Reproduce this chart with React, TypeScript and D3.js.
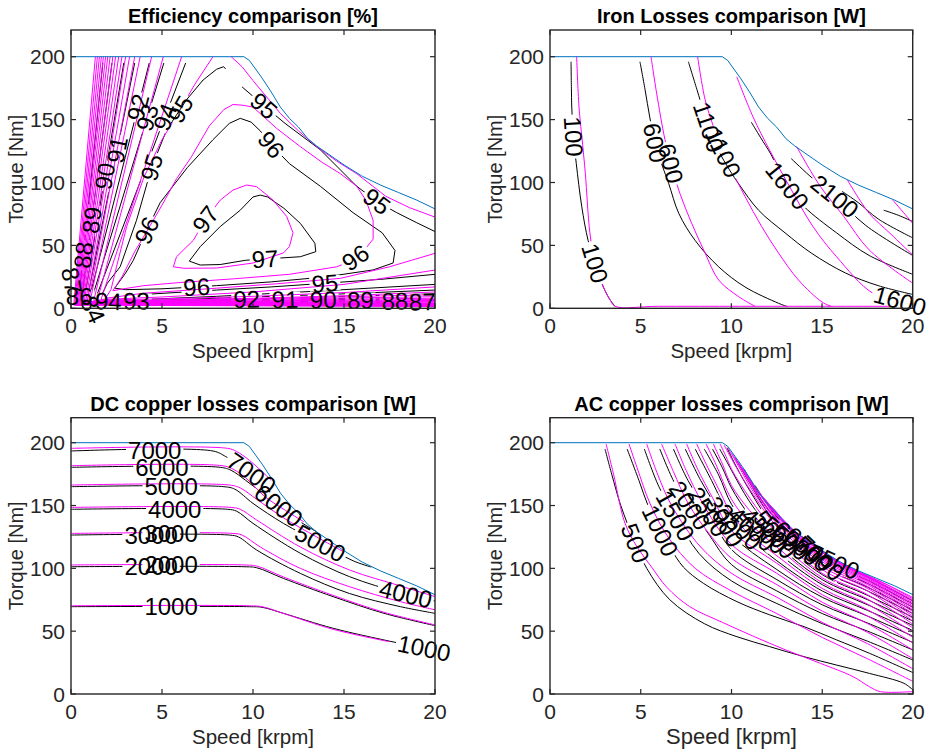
import React from 'react';
import * as d3 from 'd3';

type P = [number, number];
type LT = [string, 'k' | 'm', number, number, number, number?, boolean?];

const speedTicks = [0, 5, 10, 15, 20];
const torqueTicks = [0, 50, 100, 150, 200];

const envelope: P[] = [[0,200],[9.5,200],[9.8,197],[10.5,183],[11,172],[11.5,160],[12,151],[12.5,144],[13,135],[13.5,129],[14,124],[15,114],[16,105],[17,98],[18,92],[19,86],[20,79]];

// ---------- Efficiency [%] ----------
const effBlack: P[][] = [
  [[6.5,37.5],[7.1,49],[8.2,65],[9.3,78],[10.0,88.5],[10.4,90],[10.8,88.5],[11.7,79.5],[12.6,67.5],[13.4,51.7],[13.45,45],[12.6,41],[11,39.5],[9.6,38.2],[8.2,34.8],[7.1,34.4],[6.5,37.5]],
  [[2.4,16],[3.0,28],[3.42,38],[4.16,62],[4.9,84],[6.4,112],[7.8,134],[8.7,147],[9.3,151],[9.9,148],[10.4,141],[11.0,130],[12.0,115],[13.7,97],[15.5,76],[17.1,60],[17.8,46],[17.7,36],[16.6,30.5],[14,25],[11,21],[8,18],[6.9,17],[5,15.5],[3,14.8],[2.4,16]],
  [[20,27],[17,23],[13.95,19.9],[11,17],[8,14.5],[4,11],[2.2,9],[1.6,8],[2.0,20],[2.7,33],[3.6,70],[4.43,112],[5.26,142],[6.36,166],[7.26,181.5],[8.0,190],[8.37,192],[8.5,190.5]],
  [[9.4,176],[10.6,161],[11.76,147],[13.7,126],[15.7,97],[16.8,85],[17.9,76],[19,68],[20,61]],
  [[6.3,195],[1.3,6],[2.05,5.6],[4,7],[8,9.5],[14,14],[20,19]],
  [[5.1,195],[1.1,5.5],[3.6,5.8],[10,9],[15,11.5],[20,14.5]],
  [[4.3,195],[0.95,5],[4,5.8],[9.65,7.2],[15,9.5],[20,11.5]],
  [[3.5,195],[0.85,4.5],[6,5.5],[11.76,7],[20,9.5]],
  [[2.9,195],[0.7,4],[8,5],[13.86,6.8],[20,8]],
  [[2.25,195],[0.55,3.5],[10,4.8],[15.9,6.3],[20,7]],
  [[1.75,195],[0.4,3],[12,4.5],[17.8,5.8],[20,6.2]],
  [[0,25],[0.3,2.5],[14,4],[19.3,5.2],[20,5.3]],
];
const effMagenta: P[][] = [
  [[5.62,33],[5.8,41],[6.72,54],[7.36,70],[8.2,86],[8.9,94],[9.65,98],[10.2,96.7],[11.1,86],[11.85,73],[12.2,60],[12.0,49],[11.67,44],[10.0,36],[8.0,32],[6.2,31.8],[5.62,33]],
  [[2.3,14],[2.8,25],[3.5,45],[4.2,62],[5.0,82],[5.8,103],[6.6,120],[7.6,145],[8.4,158],[8.9,162],[9.4,161.5],[10.0,160],[11.3,143],[12.6,128.5],[13.8,116],[14.8,107],[15.7,97],[16.2,86],[16.6,70],[16.6,55],[16.0,44],[15.3,37],[14.6,33],[12,27],[9,23.5],[6,20.5],[4,18],[2.9,15.5],[2.3,14]],
  [[7.8,200],[6.8,178],[6.0,158],[5.0,134],[4.0,104],[3.06,65],[2.5,33],[2.2,15],[1.9,8],[4,12],[8,16],[11.3,19.5],[14.8,23.8],[17.5,33],[20,43.7]],
  [[8.8,200],[9.4,192],[10.0,181],[11.5,155],[12.5,141],[13.5,128.5],[14.6,117],[15.7,107],[17.3,89],[18.6,80],[20,72.5]],
  [[6.08,200],[1.65,7],[5,9],[10,13],[15,19],[20,30.4]],
  [[5.07,200],[1.45,6.5],[5,7.5],[10,9.5],[15,12.5],[20,17]],
  [[4.43,200],[1.25,6],[5,6.5],[10,8],[15,10],[20,13]],
  [[3.8,200],[1.05,5.5],[10,7.5],[20,10.8]],
  [[3.5,200],[0.96,5.3],[20,9.2]],
  [[3.22,200],[0.88,5.1],[20,8]],
  [[3.0,200],[0.8,4.9],[20,7]],
  [[2.8,200],[0.72,4.7],[20,6.2]],
  [[2.62,200],[0.66,4.5],[20,5.5]],
  [[2.45,200],[0.6,4.3],[20,4.9]],
  [[2.3,200],[0.55,4.1],[20,4.3]],
  [[2.15,200],[0.5,3.9],[20,3.8]],
  [[2.02,200],[0.45,3.7],[20,3.4]],
  [[1.9,200],[0.4,3.5],[20,3.0]],
  [[1.78,200],[0.35,3.3],[20,2.6]],
  [[1.67,200],[0.3,3.1],[20,2.3]],
  [[1.56,200],[0.25,2.9],[20,2.0]],
  [[1.45,200],[0.2,2.7],[20,1.7]],
  [[1.34,200],[0.15,2.5],[20,1.4]],
];
const effLabels: LT[] = [
  ['97','k',0,10.66,39.5],['96','k',1,4.16,62],['96','k',1,11.0,130],['96','k',1,6.9,17.3],
  ['95','k',2,4.43,112],['95','k',2,13.95,19.9],['95','k',3,10.6,161],['95','k',3,16.8,85],
  ['94','k',4,5.0,153],['94','k',4,2.05,5.6],['93','k',5,4.1,152],['93','k',5,3.6,5.8],
  ['92','k',6,3.6,160],['92','k',6,9.65,7.2],['91','k',7,2.53,126],['91','k',7,11.76,7],
  ['90','k',8,1.89,105],['90','k',8,13.86,6.8],['89','k',9,1.15,70],['89','k',9,15.9,6.3],
  ['88','k',10,0.88,42],['88','k',10,17.8,5.8],['87','k',11,0.08,22],['87','k',11,19.3,5.2],
  ['86','k',0,0.45,9,0],['84','k',0,1.2,-1,65],
  ['97','m',0,7.36,71],['95','m',2,6.17,157],['96','m',1,15.6,41],
];

// ---------- Iron losses [W] ----------
const ironBlack: P[][] = [
  [[1.16,196],[1.18,175],[1.2,160],[1.3,136],[1.45,115],[1.75,81],[2.1,54],[2.5,35],[2.94,17],[3.3,7],[3.6,1.3]],
  [[4.96,196],[5.24,174],[5.5,152],[5.8,131],[6.2,113],[6.55,99],[7.1,75.5],[8.0,54],[9.3,33],[10.75,17],[12.6,4],[13.1,1.3]],
  [[7.63,196],[8.1,174],[8.5,155],[8.75,144],[9.3,125],[9.9,110],[10.45,98],[11.5,78],[12.96,60],[14.4,44],[16.3,28],[18.1,18],[20,11]],
  [[11.1,148],[11.6,136],[12.2,122],[13.05,98],[14.0,81],[15.8,60],[17.6,42],[20,27]],
  [[13.3,119],[14.5,103],[15.7,89],[17.4,66],[20,42]],
  [[16.1,93],[17,84],[18.1,71],[20,56]],
  [[18.4,78],[19.2,74],[20,69]],
];
const ironMagenta: P[][] = [
  [[1.47,200],[1.6,160],[1.8,130],[1.95,107],[2.2,60],[2.5,35],[2.94,17],[3.3,7],[3.6,1.6],[6,1.6],[20,1.6]],
  [[5.57,200],[5.88,171],[6.34,134],[6.7,113],[7.17,91],[7.8,68],[8.55,44],[9.3,22.5],[10.4,9.3],[11.3,1.6]],
  [[8.14,200],[8.55,166],[9.0,145],[9.5,125],[10.0,110],[10.75,89],[11.67,65],[12.6,44],[13.7,22.5],[15.0,5],[15.5,1.6]],
  [[10.3,184],[11.2,152],[12.1,126],[13.2,97],[14.5,65],[15.8,41],[17.8,12],[19.4,5.5],[20,3.5]],
  [[13.6,128.5],[14.9,97],[16.2,73],[17.6,46.4],[20,20]],
  [[16.4,102],[17.6,75.5],[18.75,59.6],[20,42.4]],
  [[18.9,86],[19.5,76],[20,67.5]],
];
const ironLabels: LT[] = [
  ['100','k',0,1.29,136.5],['100','k',0,2.48,35.8,undefined,true],['600','k',1,5.6,131],
  ['1100','k',2,8.73,144],['1600','k',3,13.05,97],['2100','k',4,15.7,89],
  ['600','m',1,6.62,115],['1100','m',2,9.47,123],['1600','m',3,19.3,6],
];

// ---------- DC copper losses [W] ----------
const dcBlack: P[][] = [
  [[0,69.5],[9.8,69.5],[10.5,69],[11.67,64.2],[14.4,52.3],[17.2,43],[19.4,36.5],[20,35]],
  [[0,101.3],[9.5,101.3],[10.2,100.5],[11.67,92],[14.4,77.5],[17.2,64.2],[20,54.4]],
  [[0,126.5],[8.7,126.5],[9.2,125],[10.2,114.6],[12.6,96],[15.3,80],[18.1,69.5],[20,64.2]],
  [[0,147],[8.6,147],[9.1,145.5],[10,135.8],[12.6,112],[15.3,93.4],[18.1,80.5],[20,74]],
  [[0,165],[8.4,165],[9.0,163],[10,151.7],[11.67,135.8],[13.7,120],[15.5,106],[16.5,101]],
  [[0,180.4],[8.2,180.4],[8.8,178],[9.6,170],[10.5,160],[11.4,150],[12.5,138],[13.5,129]],
  [[0,193.4],[7.8,193.4],[8.5,189],[9.3,182],[9.93,175.6],[10.6,169],[11.2,166]],
];
const dcMagenta: P[][] = [
  [[0,70.2],[9.8,70.2],[10.5,69.5],[11.7,64],[14.4,51.5],[17.5,41.6]],
  [[0,102.7],[9.5,102.7],[10.2,101.8],[11.7,93],[14.4,78.5],[17.2,65],[20,55]],
  [[0,127.8],[8.9,127.8],[9.4,126.5],[10.4,117],[12.6,100],[15.3,85.4],[18.1,73.5],[20,67]],
  [[0,148.5],[8.8,148.5],[9.3,147],[10.2,138.5],[12.6,117],[15.3,98.7],[18.1,86],[20,77.5]],
  [[0,166.3],[8.7,166.3],[9.3,164],[10.2,155],[11.7,140],[13.5,125],[15,113]],
  [[0,181.7],[8.3,181.7],[8.9,179],[9.6,172],[10.66,157],[11.8,146],[12.8,137]],
  [[0,195.5],[8.6,195.5],[9.1,193],[9.8,186],[10.5,177],[11.0,170]],
];
const dcLabels: LT[] = [
  ['7000','k',6,4.6,193.4],['6000','k',5,5.0,180.4],['5000','k',4,5.5,165],['4000','k',3,5.7,147],
  ['3000','k',2,4.4,126.5],['2000','k',1,4.4,101.3],['1000','k',0,5.5,69.5],
  ['7000','k',6,9.93,176],['6000','k',5,11.4,150],['5000','k',4,13.7,120],['4000','k',3,18.4,80],['1000','k',0,19.4,36.5],
  ['3000','m',2,5.5,127.8],['2000','m',1,5.5,102.7],
];

// ---------- AC copper losses [W] ----------
const acBlack: P[][] = [
  [[3.03,195],[3.4,175],[3.9,150],[4.7,120],[5.33,100],[6.6,75],[8.5,56],[10.3,45.6],[12.1,37.7],[14,29.7],[15.8,23],[17.6,16.4],[19.5,8.5],[20,3.2]],
  [[4.25,195],[4.9,170],[5.4,150],[6.07,130],[6.6,117],[7.35,101],[8.46,88],[10.3,73.5],[12.1,63],[14,53.6],[15.8,43],[17.6,32.4],[20,17]],
  [[5.2,195],[6.0,165],[6.9,142],[8.2,112],[10,90],[12.5,72],[15,56],[17.5,42],[20,27]],
  [[6.05,195],[6.9,167],[7.7,150],[8.8,126],[10,103],[12.5,82],[15,64],[17.5,50],[20,35]],
  [[6.8,195],[7.6,170],[8.7,145],[10,115],[12.5,91],[15,71],[17.5,56.5],[20,41]],
  [[7.45,195],[8.3,170],[9.2,148],[10,127],[12.5,99],[15,77],[17.5,62],[20,46]],
  [[8.0,195],[8.9,170],[10,139],[11,124],[12.5,106],[15,82],[17.5,66.5],[20,50.5]],
  [[8.5,195],[9.3,174],[10,151],[11,133],[12.5,113],[15,87],[17.5,71],[20,54.5]],
  [[8.95,195],[9.5,180],[10,164],[11,142],[12.5,119],[15,91],[17.5,75],[20,58]],
  [[9.35,195],[9.7,186],[10,178],[11,153],[12.5,125],[15,95],[17.5,78.5],[20,61]],
  [[9.75,196],[10.3,180],[11,162],[12.5,130],[15,98.5],[17.5,82],[20,64]],
  [[10.2,188],[11,168],[12.5,134.5],[15,101.5],[17.5,85],[20,66.5]],
  [[10.7,179],[11.5,158],[12.5,138.5],[15,104.5],[17.5,88],[20,69]],
  [[11.3,166],[12.5,141],[15,107],[17.5,90.5],[20,71.5]],
  [[12.0,151],[13,134],[15,109.5],[17.5,93],[20,74]],
];
const acMagenta: P[][] = [
  [[3.09,199],[3.5,175],[4.13,136],[4.8,117],[5.6,101],[6.43,85],[7.7,69.5],[9.5,57],[11.2,46],[13,35],[14.9,24.4],[16.7,13.8],[17.6,5.8],[18.2,1.9],[20,1.9]],
  [[4.35,199],[4.8,180],[5.5,152],[6.5,125],[8,100],[10,82],[12.5,64],[15,45],[17.5,28],[20,10]],
  [[5.33,199],[5.9,176],[6.7,150],[8.3,117],[10,96],[12.5,77],[15,57],[17.5,40],[20,20]],
  [[6.15,199],[6.8,177],[7.6,152],[8.8,127],[10,108],[12.5,87],[15,66],[17.5,49],[20,28]],
  [[6.89,199],[7.5,178],[8.4,152],[10,119],[12.5,96],[15,73],[17.5,56],[20,35]],
  [[7.53,199],[8.1,180],[9.0,155],[10,130],[12.5,104],[15,79],[17.5,62],[20,40.5]],
  [[8.08,199],[8.6,183],[9.4,160],[10,143],[11,127],[12.5,110],[15,84],[17.5,67],[20,45]],
  [[8.6,199],[9.1,184],[10,155],[11,136],[12.5,117],[15,88.5],[17.5,71.5],[20,49]],
  [[9.0,199],[9.5,183],[10,166],[11,146],[12.5,123],[15,92.5],[17.5,75.5],[20,52.5]],
  [[9.37,199],[9.7,189],[10,179],[11,156],[12.5,128],[15,96],[17.5,79],[20,55.5]],
  [[9.6,198],[10.2,182],[11,163],[12.5,133],[15,99],[17.5,82],[20,58]],
  [[9.8,196],[10.4,181],[11.2,161],[12.5,135.5],[15,101.5],[17.5,84],[20,60]],
  [[10.0,192],[10.6,178],[11.4,159],[12.5,137.5],[15,103.5],[17.5,85.5],[20,62]],
  [[10.2,188],[10.8,174],[11.6,156],[12.5,139],[15,105.3],[17.5,87],[20,63.8]],
  [[10.4,184],[11.0,170],[11.8,154],[12.5,140],[15,106.8],[17.5,88.2],[20,65.5]],
  [[10.6,180],[11.2,166],[12.0,151],[12.8,137],[15,108],[17.5,89.3],[20,67]],
  [[10.8,176],[11.4,162.5],[12.2,148.5],[13,134],[15,109],[17.5,90.3],[20,68.5]],
  [[11.0,171.5],[11.6,159],[12.4,146],[13.2,132],[15,110],[17.5,91.2],[20,70]],
  [[11.25,165.5],[12,151.5],[13,134.5],[14,122],[15,110.8],[17.5,92],[20,71.3]],
  [[11.5,159.5],[12.3,147.5],[13.3,132],[14.5,117.5],[16,103.5],[17.5,92.7],[20,72.5]],
  [[11.8,154],[12.5,143.3],[13.5,129.5],[14.5,119],[16,104],[17.5,93.3],[20,73.7]],
  [[12.1,148.5],[13,134.5],[14,123.5],[15,112.5],[16.5,100.5],[18,90],[20,74.8]],
  [[12.5,143.5],[13.5,128.5],[14.5,120],[15.5,108.8],[17,97],[18.5,87.5],[20,75.8]],
  [[13.0,134.5],[14,123.5],[15,113.3],[16.5,101],[18,91],[20,76.8]],
];
const acLabels: LT[] = [
  ['500','k',0,4.69,120],['1000','k',1,6.07,130],['1500','k',2,6.9,142],['2000','k',3,7.7,150],
  ['2500','k',4,8.7,145],['3000','k',5,9.6,137],['3500','k',6,10.4,133],['4000','k',7,11.1,131],
  ['4500','k',8,11.8,130],['5000','k',9,12.4,127],['5500','k',10,13.0,124],['6000','k',11,13.6,120],
  ['6500','k',12,14.2,115],['7000','k',13,14.9,108],['7500','k',14,15.6,104],
];

const FONT = '"Liberation Sans", Arial, Helvetica, sans-serif';
const AX = '#262626';
const W = 940, H = 753;
const LFS = 24;

type Cfg = {
  id: string; title: string; x0: number; x20: number; y0: number; y200: number; top: number;
  black: P[][]; magenta: P[][]; labels: LT[]; smooth: boolean; xls: number; titleY: number;
};

const panels: Cfg[] = [
  { id: 'eff', title: 'Efficiency comparison [%]', x0: 71, x20: 435, y0: 308.3, y200: 56.7, top: 30, black: effBlack, magenta: effMagenta, labels: effLabels, smooth: false, xls: 20.5, titleY: 22.5 },
  { id: 'iron', title: 'Iron Losses comparison [W]', x0: 550, x20: 912.7, y0: 308.3, y200: 56.7, top: 30, black: ironBlack, magenta: ironMagenta, labels: ironLabels, smooth: true, xls: 20.5, titleY: 22.5 },
  { id: 'dc', title: 'DC copper losses comparison [W]', x0: 71, x20: 435, y0: 694, y200: 442.7, top: 417.7, black: dcBlack, magenta: dcMagenta, labels: dcLabels, smooth: true, xls: 20.5, titleY: 410.5 },
  { id: 'ac', title: 'AC copper losses comprison [W]', x0: 550, x20: 913, y0: 694, y200: 442.7, top: 417.7, black: acBlack, magenta: acMagenta, labels: acLabels, smooth: true, xls: 22, titleY: 410.5 },
];

function Panel({ c }: { c: Cfg }) {
  const x = d3.scaleLinear().domain([0, 20]).range([c.x0, c.x20]);
  const y = d3.scaleLinear().domain([0, 200]).range([c.y0, c.y200]);
  const line = d3.line<P>().x(d => x(d[0])).y(d => y(d[1]))
    .curve(c.smooth ? d3.curveCatmullRom.alpha(0.5) : d3.curveLinear);
  const lin = d3.line<P>().x(d => x(d[0])).y(d => y(d[1]));

  const placed = c.labels.map(([text, set, li, s, t, a, cut]) => {
    const tx = x(s), ty = y(t);
    let px = tx, py = ty, ang = a ?? 0;
    if (a === undefined) {
      const pts = (set === 'k' ? c.black : c.magenta)[li].map(p => [x(p[0]), y(p[1])]);
      let bd = Infinity;
      for (let i = 0; i < pts.length - 1; i++) {
        const [ax, ay] = pts[i], [bx, by] = pts[i + 1];
        const dx = bx - ax, dy = by - ay; const L = dx * dx + dy * dy;
        let u = L ? ((tx - ax) * dx + (ty - ay) * dy) / L : 0;
        u = Math.max(0, Math.min(1, u));
        const qx = ax + u * dx, qy = ay + u * dy;
        const d = (qx - tx) ** 2 + (qy - ty) ** 2;
        if (d < bd) { bd = d; px = qx; py = qy; ang = Math.atan2(dy, dx) * 180 / Math.PI; }
      }
      while (ang > 90) ang -= 180;
      while (ang <= -90) ang += 180;
    }
    const w = text.length * 0.556 * LFS + 4, h = 15;
    return { text, set, cut: !!cut, px, py, ang, w, h };
  });

  const maskRects = (which: 'k' | 'm') => placed
    .filter(l => l.set === which || l.cut)
    .map((l, i) => (
      <rect key={i} x={-l.w / 2} y={-l.h / 2} width={l.w} height={l.h} fill="black"
        transform={`translate(${l.px},${l.py}) rotate(${l.ang})`} />
    ));

  const cx = (c.x0 + c.x20) / 2;
  const cy = (c.top + c.y0) / 2;

  return (
    <g>
      <defs>
        <clipPath id={`clip-${c.id}`}>
          <rect x={c.x0} y={c.top} width={c.x20 - c.x0} height={c.y0 - c.top} />
        </clipPath>
        <mask id={`mk-${c.id}`} maskUnits="userSpaceOnUse" x={0} y={0} width={W} height={H}>
          <rect x={0} y={0} width={W} height={H} fill="white" />
          {maskRects('k')}
        </mask>
        <mask id={`mm-${c.id}`} maskUnits="userSpaceOnUse" x={0} y={0} width={W} height={H}>
          <rect x={0} y={0} width={W} height={H} fill="white" />
          {maskRects('m')}
        </mask>
      </defs>
      <text x={cx} y={c.titleY} textAnchor="middle" fontFamily={FONT} fontWeight="bold" fontSize={20} fill="#000">{c.title}</text>
      <g clipPath={`url(#clip-${c.id})`}>
        <g mask={`url(#mk-${c.id})`}>
          {c.black.map((l, i) => <path key={i} d={line(l) || ''} fill="none" stroke="#000" strokeWidth={1} />)}
        </g>
        <g mask={`url(#mm-${c.id})`}>
          {c.magenta.map((l, i) => <path key={i} d={line(l) || ''} fill="none" stroke="#FF00FF" strokeWidth={1} />)}
        </g>
        <path d={lin(envelope) || ''} fill="none" stroke="#0072BD" strokeWidth={1} />
      </g>
      {placed.map((l, i) => (
        <text key={i} transform={`translate(${l.px},${l.py}) rotate(${l.ang})`} textAnchor="middle"
          dominantBaseline="central" fontFamily={FONT} fontSize={LFS} fill="#000">{l.text}</text>
      ))}
      <rect x={c.x0} y={c.top} width={c.x20 - c.x0} height={c.y0 - c.top} fill="none" stroke={AX} strokeWidth={1.4} />
      {speedTicks.map(v => (
        <g key={'x' + v}>
          <line x1={x(v)} x2={x(v)} y1={c.y0} y2={c.y0 - 5} stroke={AX} strokeWidth={1.2} />
          <line x1={x(v)} x2={x(v)} y1={c.top} y2={c.top + 5} stroke={AX} strokeWidth={1.2} />
          <text x={x(v)} y={c.y0 + 25} textAnchor="middle" fontFamily={FONT} fontSize={21} fill={AX}>{v}</text>
        </g>
      ))}
      {torqueTicks.map(v => (
        <g key={'y' + v}>
          <line x1={c.x0} x2={c.x0 + 5} y1={y(v)} y2={y(v)} stroke={AX} strokeWidth={1.2} />
          <line x1={c.x20} x2={c.x20 - 5} y1={y(v)} y2={y(v)} stroke={AX} strokeWidth={1.2} />
          <text x={c.x0 - 6} y={y(v)} textAnchor="end" dominantBaseline="central" fontFamily={FONT} fontSize={21} fill={AX}>{v}</text>
        </g>
      ))}
      <text x={cx} y={c.y0 + 50} textAnchor="middle" fontFamily={FONT} fontSize={c.xls} fill={AX}>Speed [krpm]</text>
      <text transform={`translate(${c.x0 - 48},${cy}) rotate(-90)`} textAnchor="middle" fontFamily={FONT} fontSize={20} fill={AX}>Torque [Nm]</text>
    </g>
  );
}

export default function App() {
  return (
    <svg width={W} height={H} viewBox={`0 0 ${W} ${H}`} style={{ position: 'absolute', left: 0, top: 0, background: '#fff' }}>
      <rect x={0} y={0} width={W} height={H} fill="#fff" />
      {panels.map(p => <Panel key={p.id} c={p} />)}
    </svg>
  );
}
